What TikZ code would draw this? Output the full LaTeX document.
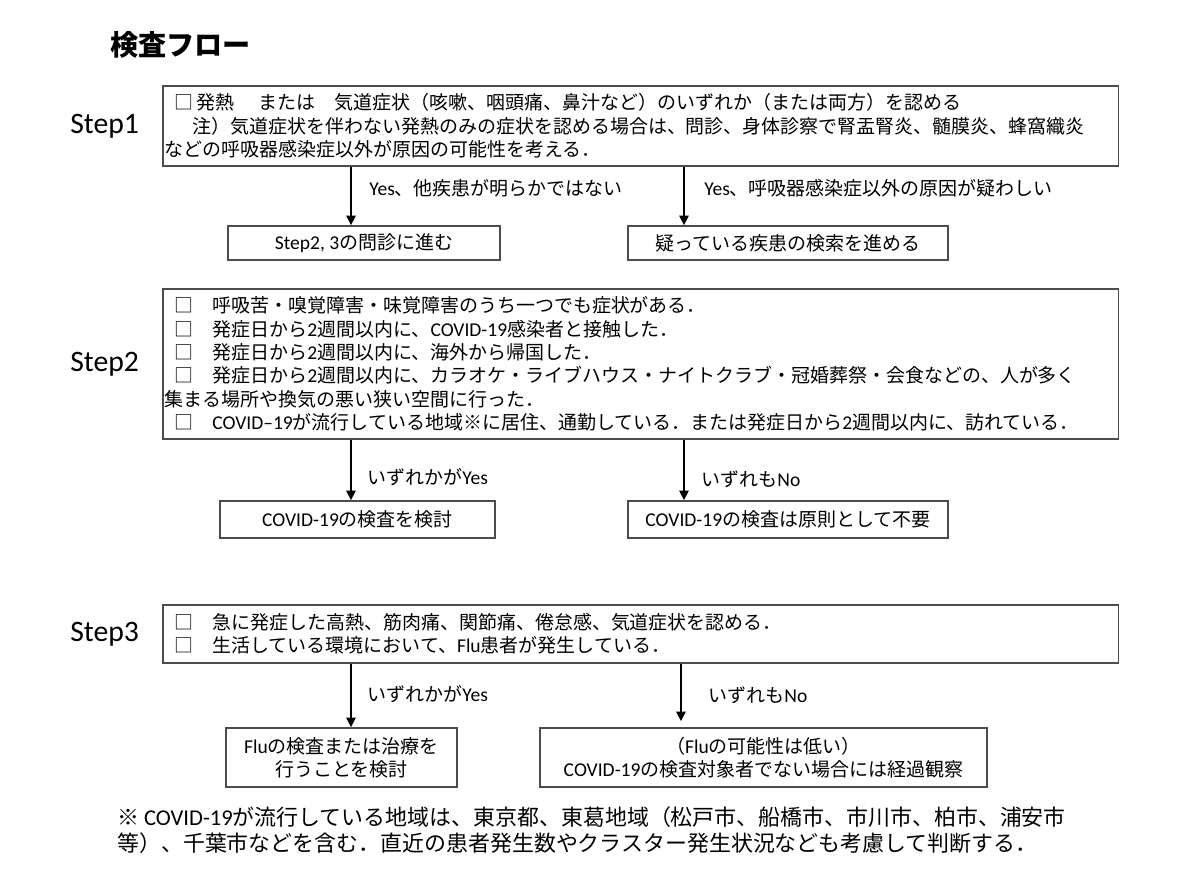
\documentclass[tikz,border=0pt]{standalone}
\usepackage{fontspec}
\setmainfont{Noto Sans CJK JP}
\newfontfamily\en{Carlito}[Scale=1.03]
\usetikzlibrary{positioning,arrows.meta}

\begin{document}
\begin{tikzpicture}[x=0.025cm, y=-0.025cm,
    box/.style ={draw=black!70, line width=0.9pt, inner sep=0pt,
                 font=\fontsize{13.5pt}{16.6pt}\selectfont},
    bigbox/.style ={box, minimum width=23.875cm, text width=23.775cm, align=left},
    flow/.style ={line width=2.1pt, -{Triangle[length=7pt,width=6.5pt]}},
    lbl/.style ={right, inner sep=0pt, font=\fontsize{13.5pt}{16.6pt}\selectfont},
    steplabel/.style ={inner sep=0pt, font=\en\fontsize{20.5pt}{24pt}\selectfont},
    note/.style ={inner sep=0pt, align=left, font=\fontsize{15.6pt}{18.4pt}\selectfont}]
   \useasboundingbox (0,0) rectangle (1200,891);
   \node[inner sep=0pt, anchor=west, font=\bfseries\fontsize{20pt}{24pt}\selectfont] (T) at (110,45) {検査フロー};

   \node[bigbox, minimum height=2cm] (S1) at (640.5,126)
     {\hspace*{0.5em}□\hspace{0.15em}発熱\hspace{1.3em}または\hspace{1em}気道症状（咳嗽、咽頭痛、鼻汁など）のいずれか（または両方）を認める\\
      \hspace*{1.45em}注）気道症状を伴わない発熱のみの症状を認める場合は、問診、身体診察で腎盂腎炎、髄膜炎、蜂窩織炎\\
      などの呼吸器感染症以外が原因の可能性を考える．};
   \node[steplabel, left=0.575cm of S1] (L1) {Step1};
   \node[box, minimum width=6.8cm, minimum height=0.85cm] (A1) at (364,243) {{\en Step2, 3}の問診に進む};
   \node[box, minimum width=8cm, minimum height=0.85cm] (B1) at (788,243) {疑っている疾患の検索を進める};
   \draw[flow] ([xshift=-0.325cm]A1.north |- S1.south) to node[lbl, pos=0.37, xshift=0.425cm] {{\en Yes}、他疾患が明らかではない} ([xshift=-0.325cm]A1.north);
   \draw[flow] ([xshift=-2.6cm]B1.north |- S1.south) to node[lbl, pos=0.37, xshift=0.475cm] {{\en Yes}、呼吸器感染症以外の原因が疑わしい} ([xshift=-2.6cm]B1.north);

   \node[bigbox, minimum height=3.75cm] (S2) at (640.5,364)
     {\hspace*{0.5em}□　呼吸苦・嗅覚障害・味覚障害のうち一つでも症状がある．\\
      \hspace*{0.5em}□　発症日から{\en 2}週間以内に、{\en COVID-19}感染者と接触した．\\
      \hspace*{0.5em}□　発症日から{\en 2}週間以内に、海外から帰国した．\\
      \hspace*{0.5em}□　発症日から{\en 2}週間以内に、カラオケ・ライブハウス・ナイトクラブ・冠婚葬祭・会食などの、人が多く\\
      集まる場所や換気の悪い狭い空間に行った．\\
      \hspace*{0.5em}□　{\en COVID–19}が流行している地域※に居住、通勤している．または発症日から{\en 2}週間以内に、訪れている．};
   \node[steplabel, left=0.575cm of S2] (L2) {Step2};
   \node[box, minimum width=6.875cm, minimum height=0.925cm] (A2) at (357.5,519.5) {{\en COVID-19}の検査を検討};
   \node[box, minimum width=8cm, minimum height=0.925cm] (B2) at (788,519.5) {{\en COVID-19}の検査は原則として不要};
   \draw[flow] ([xshift=-0.1625cm]A2.north |- S2.south) to node[lbl, pos=0.62, xshift=0.375cm] {いずれかが{\en Yes}} ([xshift=-0.1625cm]A2.north);
   \draw[flow] ([xshift=-2.6cm]B2.north |- S2.south) to node[lbl, pos=0.66, xshift=0.4cm] {いずれも{\en No}} ([xshift=-2.6cm]B2.north);

   \node[bigbox, minimum height=1.45cm] (S3) at (640.5,634)
     {\hspace*{0.5em}□　急に発症した高熱、筋肉痛、関節痛、倦怠感、気道症状を認める．\\
      \hspace*{0.5em}□　生活している環境において、{\en Flu}患者が発生している．};
   \node[steplabel, left=0.575cm of S3] (L3) {Step3};
   \node[box, minimum width=5.775cm, minimum height=1.475cm, align=center] (A3) at (341.5,757.5) {{\en Flu}の検査または治療を\\行うことを検討};
   \node[box, minimum width=11.175cm, minimum height=1.475cm, align=center] (B3) at (763.5,757.5) {（{\en Flu}の可能性は低い）\\{\en COVID-19}の検査対象者でない場合には経過観察};
   \draw[flow] ([xshift=0.2375cm]A3.north |- S3.south) to node[lbl, pos=0.48, xshift=0.375cm] {いずれかが{\en Yes}} ([xshift=0.2375cm]A3.north);
   \draw[flow, shorten >=0.15cm] ([xshift=-2.0625cm]B3.north |- S3.south) to node[lbl, pos=0.49, xshift=0.65cm] {いずれも{\en No}} ([xshift=-2.0625cm]B3.north);

   \node[note, anchor=west] (N) at (117,830)
     {※ {\en COVID-19}が流行している地域は、東京都、東葛地域（松戸市、船橋市、市川市、柏市、浦安市\\
      等）、千葉市などを含む．直近の患者発生数やクラスター発生状況なども考慮して判断する．};
 \end{tikzpicture}
\end{document}
